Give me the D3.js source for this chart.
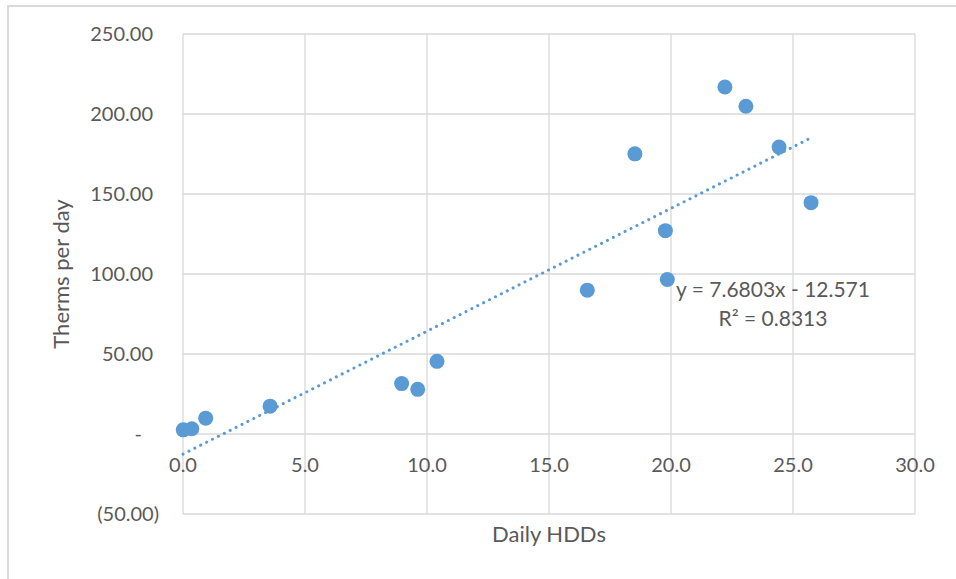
<!DOCTYPE html>
<html>
<head>
<meta charset="utf-8">
<script src="https://cdn.jsdelivr.net/npm/d3@7"></script>
<style>
  html, body { margin: 0; padding: 0; background: #fff; }
  text { font-family: Lato, "Open Sans", sans-serif; fill: #595959; }
</style>
</head>
<body>
<svg id="chart" width="956" height="579"></svg>
<script>
var hdd    = [0.01, 0.36, 0.93, 3.57, 8.96, 9.62, 10.41, 16.57, 18.52, 19.77, 19.85, 22.21, 23.07, 24.43, 25.74];
var therms = [2.6, 3.3, 9.9, 17.4, 31.5, 27.9, 45.4, 89.9, 175.1, 127.1, 96.6, 216.9, 204.8, 179.3, 144.6];

var xTicks = [0, 5, 10, 15, 20, 25, 30];
var yTicks = [-50, 0, 50, 100, 150, 200, 250];

// Excel trendline
var slope = 7.6803, intercept = -12.571;
var eqLabel = 'y = 7.6803x - 12.571';
var r2Label = 'R² = 0.8313';

var xTitle = 'Daily HDDs';
var yTitle = 'Therms per day';

var svg = d3.select('#chart');
var margin = {left: 183, top: 34, right: 41, bottom: 65};
var W = 956, H = 579;

var xs = d3.scaleLinear().domain([0, 30]).range([margin.left, W - margin.right]);
var ys = d3.scaleLinear().domain([-50, 250]).range([H - margin.bottom, margin.top]);

var grid = '#d9d9d9';
var blue = '#5b9bd5';

// chart area border (cropped at right/bottom)
svg.append('path')
    .attr('d', 'M8,' + (H + 2) + 'V6H' + (W + 2))
    .attr('fill', 'none')
    .attr('stroke', grid)
    .attr('stroke-width', 2);

// gridlines
var g = svg.append('g');
g.selectAll('line.h').data(yTicks).enter().append('line')
    .attr('class', 'h')
    .attr('x1', xs(0)).attr('x2', xs(30))
    .attr('y1', function (d) { return ys(d); })
    .attr('y2', function (d) { return ys(d); })
    .attr('stroke', grid).attr('stroke-width', 1.3);
g.selectAll('line.v').data(xTicks).enter().append('line')
    .attr('class', 'v')
    .attr('y1', ys(-50)).attr('y2', ys(250))
    .attr('x1', function (d) { return xs(d); })
    .attr('x2', function (d) { return xs(d); })
    .attr('stroke', grid).attr('stroke-width', 1.3);

// y tick labels, accounting style
function yFmt(d) {
    if (d === 0) return '-';
    if (d < 0) return '(' + d3.format('.2f')(-d) + ')';
    return d3.format('.2f')(d);
}
function yPad(d) {
    if (d === 0) return -17;
    if (d < 0) return 0;
    return -6;
}
svg.append('g').selectAll('text').data(yTicks).enter().append('text')
    .attr('x', function (d) { return 159 + yPad(d); })
    .attr('y', function (d) { return ys(d); })
    .attr('dy', '0.35em')
    .attr('text-anchor', 'end')
    .style('font-size', '20px')
    .text(yFmt);

// x tick labels sit under the zero line
svg.append('g').selectAll('text').data(xTicks).enter().append('text')
    .attr('x', function (d) { return xs(d); })
    .attr('y', ys(0) + 31)
    .attr('dy', '0.35em')
    .attr('text-anchor', 'middle')
    .style('font-size', '20px')
    .text(d3.format('.1f'));

// axis titles
svg.append('text')
    .attr('x', (xs(0) + xs(30)) / 2)
    .attr('y', 534)
    .attr('dy', '0.35em')
    .attr('text-anchor', 'middle')
    .style('font-size', '22px')
    .text(xTitle);

svg.append('text')
    .attr('transform', 'translate(61,' + ((ys(-50) + ys(250)) / 2) + ') rotate(-90)')
    .attr('dy', '0.35em')
    .attr('text-anchor', 'middle')
    .style('font-size', '22px')
    .text(yTitle);

// trendline
var xMax = d3.max(hdd);
svg.append('line')
    .attr('x1', xs(0)).attr('y1', ys(intercept))
    .attr('x2', xs(xMax)).attr('y2', ys(slope * xMax + intercept))
    .attr('stroke', blue)
    .attr('stroke-width', 3)
    .attr('stroke-linecap', 'round')
    .attr('stroke-dasharray', '0.1 6.5');

// points
var pts = hdd.map(function (x, i) { return {x: x, y: therms[i]}; });
svg.append('g').selectAll('circle').data(pts).enter().append('circle')
    .attr('cx', function (d) { return xs(d.x); })
    .attr('cy', function (d) { return ys(d.y); })
    .attr('r', 7.5)
    .attr('fill', blue);

// equation label
var lbl = svg.append('text')
    .attr('x', 773)
    .attr('text-anchor', 'middle')
    .style('font-size', '21px');
lbl.append('tspan').attr('x', 773).attr('y', 290).attr('dy', '0.35em').text(eqLabel);
lbl.append('tspan').attr('x', 773).attr('y', 319).attr('dy', '0.35em').text(r2Label);
</script>
</body>
</html>
